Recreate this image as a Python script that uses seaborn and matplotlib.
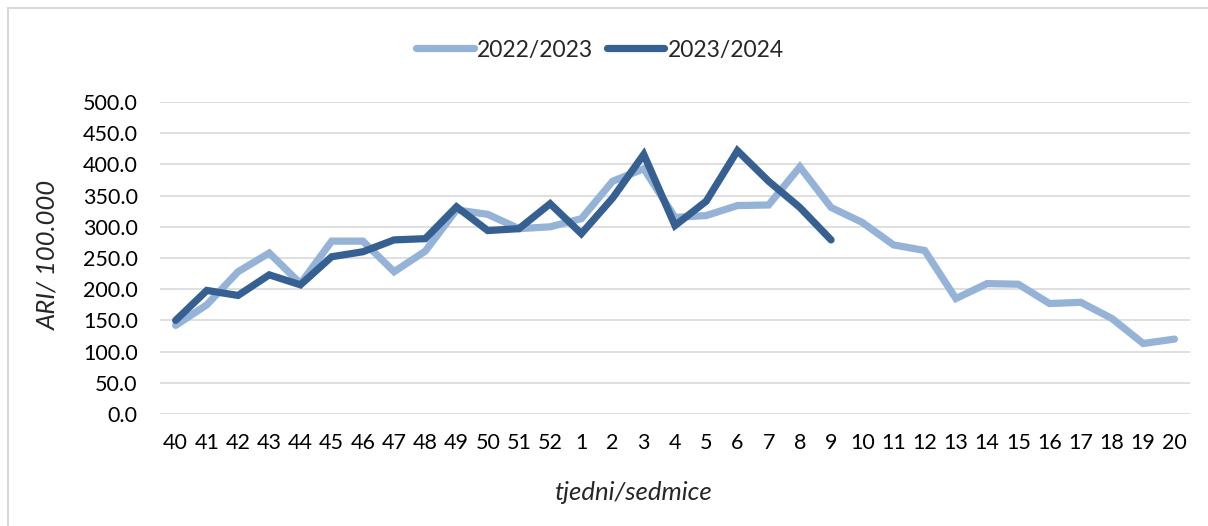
import pandas as pd
import matplotlib.pyplot as plt
import seaborn as sns
from matplotlib.lines import Line2D

# Weekly ARI incidence per 100.000
weeks = ['40', '41', '42', '43', '44', '45', '46', '47', '48', '49', '50', '51', '52',
         '1', '2', '3', '4', '5', '6', '7', '8', '9', '10', '11', '12', '13', '14',
         '15', '16', '17', '18', '19', '20']
season_2022 = [142, 175, 228, 258, 209, 277, 277, 228, 261, 327, 320, 297, 300,
               313, 373, 393, 315, 318, 334, 335, 396, 331, 307, 271, 262, 185, 209,
               208, 177, 179, 153, 113, 120]
season_2023 = [150, 198, 190, 223, 207, 252, 260, 279, 281, 332, 294, 297, 337,
               289, 346, 416, 302, 341, 422, 373, 331, 279]

labels = ['2022/2023', '2023/2024']
colors = {'2022/2023': '#95B3D7', '2023/2024': '#366092'}

sns.set_theme(style='white')
plt.rcParams['font.family'] = ['Lato', 'DejaVu Sans']

rows = []
for i, v in enumerate(season_2022):
    rows.append({'pos': i, 'value': v, 'season': labels[0]})
for i, v in enumerate(season_2023):
    rows.append({'pos': i, 'value': v, 'season': labels[1]})
df = pd.DataFrame(rows)

W, H = 1208, 526
fig = plt.figure(figsize=(W / 100, H / 100), dpi=100)
ax = fig.add_axes([160 / W, (H - 414) / H, 1030 / W, 312 / H])

sns.lineplot(data=df, x='pos', y='value', hue='season', hue_order=labels,
             palette=colors, linewidth=5.2, ax=ax, legend=False,
             solid_capstyle='round', solid_joinstyle='miter')

ax.set_xlim(-0.5, len(weeks) - 0.5)
ax.set_ylim(0, 500)
ax.set_yticks(range(0, 501, 50))
ax.set_yticklabels([f'{v:.1f}' for v in range(0, 501, 50)])
ax.set_xticks(range(len(weeks)))
ax.set_xticklabels(weeks)
ax.tick_params(axis='both', length=0, labelsize=15.5, colors='black')
ax.tick_params(axis='y', pad=16)
ax.tick_params(axis='x', pad=14)
ax.grid(axis='y', color='#D9D9D9', linewidth=1.2)
ax.set_axisbelow(True)
for s in ax.spines.values():
    s.set_visible(False)
ax.set_xlabel('')
ax.set_ylabel('')

fig.text(633 / W, 1 - 492 / H, 'tjedni/sedmice', style='italic', fontsize=18.5,
         ha='center', va='center')
fig.text(48 / W, 1 - 255 / H, 'ARI/ 100.000', style='italic', fontsize=18.5,
         ha='center', va='center', rotation=90)

handles = [Line2D([0], [0], color=colors[l], linewidth=5.2, solid_capstyle='round')
           for l in labels]
fig.legend(handles, labels, loc='center', bbox_to_anchor=(600 / W, 1 - 50 / H),
           ncol=2, frameon=False, fontsize=16.5, handlelength=2.5,
           handletextpad=0.15, columnspacing=0.6)

# chart area border (top and left edges visible)
fig.add_artist(Line2D([8 / W, 1], [1 - 8 / H, 1 - 8 / H], color='#D9D9D9',
                      linewidth=1.5, transform=fig.transFigure))
fig.add_artist(Line2D([8 / W, 8 / W], [0, 1 - 8 / H], color='#D9D9D9',
                      linewidth=1.5, transform=fig.transFigure))

fig.savefig('out.png', dpi=100)
